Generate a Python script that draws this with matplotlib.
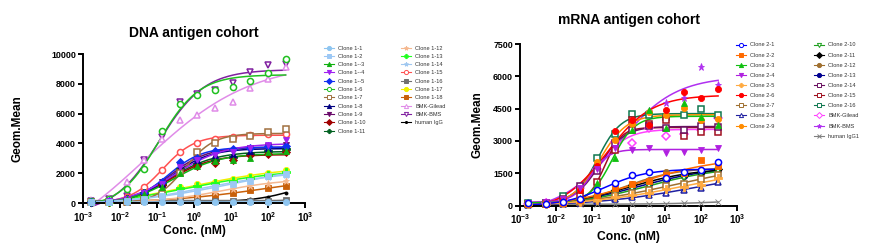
import numpy as np
import matplotlib
matplotlib.use('Agg')
import matplotlib.pyplot as plt
from matplotlib.lines import Line2D
from matplotlib.ticker import NullLocator

plt.rcParams['font.family'] = ['Liberation Sans', 'DejaVu Sans']
plt.rcParams['mathtext.fontset'] = 'custom'
plt.rcParams['mathtext.rm'] = 'Liberation Sans'
plt.rcParams['mathtext.bf'] = 'Liberation Sans:bold'

# concentrations (nM), 3-fold dilution
conc = [0.00169, 0.00508, 0.0152, 0.0457, 0.137, 0.412, 1.23, 3.70, 11.1, 33.3, 100, 300]

# ---- DNA antigen cohort (Geom.Mean) ----
dna_labels = ['Clone 1-1', 'Clone 1-2', 'Clone 1--3', 'Clone 1--4', 'Clone 1--5', 'Clone 1-6',
              'Clone 1-7', 'Clone 1-8', 'Clone 1-9', 'Clone 1-10', 'Clone 1-11', 'Clone 1-12',
              'Clone 1-13', 'Clone 1-14', 'Clone 1-15', 'Clone 1-16', 'Clone 1-17', 'Clone 1-18',
              'BMK-Gilead', 'BMK-BMS', 'human IgG']
c1_1 = [60, 70, 60, 80, 70, 60, 60, 70, 60, 70, 60, 80]
c1_2 = [80, 100, 150, 300, 450, 700, 800, 1050, 1300, 1500, 1800, 1950]
c1_3 = [80, 100, 250, 600, 1100, 2000, 2500, 2800, 2900, 3000, 3400, 3500]
c1_4 = [100, 150, 300, 700, 1300, 2400, 2900, 3200, 3400, 3700, 3900, 4200]
c1_5 = [80, 120, 300, 700, 1400, 2750, 3000, 3500, 3600, 3700, 3800, 3850]
c1_6 = [150, 300, 950, 2300, 4830, 6650, 7250, 7580, 7800, 8200, 8700, 9650]
c1_7 = [50, 80, 100, 200, 600, 2000, 3400, 4000, 4300, 4500, 4750, 4950]
c1_8 = [100, 120, 250, 650, 1300, 2400, 2900, 3200, 3300, 3500, 3700, 3900]
c1_9 = [100, 150, 300, 700, 1400, 2500, 3000, 3300, 3500, 3700, 3800, 3900]
c1_10 = [80, 100, 250, 600, 1200, 2200, 2500, 2700, 2900, 3200, 3300, 3400]
c1_11 = [80, 120, 250, 650, 1300, 2300, 2600, 2900, 3100, 3300, 3500, 3600]
c1_12 = [50, 60, 80, 120, 200, 350, 550, 750, 950, 1150, 1300, 1450]
c1_13 = [80, 100, 200, 400, 700, 1000, 1150, 1350, 1500, 1700, 1850, 2050]
c1_14 = [60, 80, 150, 300, 500, 800, 950, 1150, 1350, 1550, 1750, 1900]
c1_15 = [100, 150, 400, 1070, 2210, 3420, 4030, 4300, 4450, 4550, 4600, 4650]
c1_16 = [150, 200, 150, 150, 200, 150, 150, 150, 150, 150, 150, 200]
c1_17 = [100, 100, 200, 400, 800, 1100, 1250, 1400, 1600, 1800, 2000, 2200]
c1_18 = [50, 60, 80, 150, 250, 300, 400, 500, 650, 850, 1000, 1150]
dna_gilead = [200, 350, 1400, 2900, 4300, 5570, 5900, 6370, 6800, 7700, 8300, 9100]
dna_bms = [150, 250, 500, 2900, 4400, 6800, 7300, 7600, 8050, 8800, 9250, 9300]
dna_igg = [50, 50, 50, 50, 50, 60, 80, 100, 150, 250, 400, 700]
dna_values = [c1_1, c1_2, c1_3, c1_4, c1_5, c1_6, c1_7, c1_8, c1_9, c1_10, c1_11, c1_12,
              c1_13, c1_14, c1_15, c1_16, c1_17, c1_18, dna_gilead, dna_bms, dna_igg]

# ---- mRNA antigen cohort ----
rna_labels = ['Clone 2-1', 'Clone 2-2', 'Clone 2-3', 'Clone 2-4', 'Clone 2-5', 'Clone 2-6',
              'Clone 2-7', 'Clone 2-8', 'Clone 2-9', 'Clone 2-10', 'Clone 2-11', 'Clone 2-12',
              'Clone 2-13', 'Clone 2-14', 'Clone 2-15', 'Clone 2-16', 'BMK-Gilead', 'BMK-BMS',
              'human IgG1']
c2_1 = [100, 80, 150, 320, 700, 1050, 1400, 1550, 1300, 1550, 1650, 2000]
c2_2 = [80, 80, 120, 250, 500, 800, 1000, 1150, 1400, 1500, 2100, 1850]
c2_3 = [100, 120, 200, 350, 1050, 2200, 3500, 4450, 3600, 4750, 4100, 3750]
c2_4 = [120, 150, 300, 800, 1700, 2650, 2600, 2650, 2450, 2500, 2600, 2650]
c2_5 = [50, 60, 100, 150, 250, 400, 500, 600, 750, 850, 950, 1300]
c2_6 = [100, 150, 300, 700, 1830, 3450, 3950, 3750, 4450, 5250, 5000, 5400]
c2_7 = [60, 70, 100, 150, 300, 450, 600, 700, 900, 1000, 1250, 1400]
c2_8 = [40, 50, 60, 100, 200, 300, 400, 500, 600, 700, 800, 1100]
c2_9 = [100, 100, 300, 750, 2000, 3050, 3800, 4350, 4200, 4550, 3950, 4000]
c2_10 = [60, 70, 100, 200, 350, 550, 750, 900, 1100, 1300, 1450, 1600]
c2_11 = [70, 80, 120, 250, 450, 700, 950, 1100, 1250, 1400, 1550, 1700]
c2_12 = [70, 80, 120, 250, 450, 750, 1000, 1200, 1550, 1500, 1650, 1750]
c2_13 = [60, 70, 100, 200, 400, 650, 850, 1000, 1200, 1350, 1500, 1650]
c2_14 = [80, 100, 300, 900, 1600, 2900, 3500, 3700, 3600, 3500, 3700, 3650]
c2_15 = [60, 80, 150, 450, 1100, 2600, 3950, 3800, 3950, 3250, 3400, 3400]
c2_16 = [100, 120, 450, 700, 2200, 3300, 4270, 4200, 4100, 4200, 4500, 4200]
rna_gilead = [80, 100, 250, 800, 1700, 2950, 2900, 3600, 3250, 3300, 3500, 4050]
rna_bms = [100, 150, 400, 900, 1650, 2900, 3700, 4400, 4740, 5000, 6450, 5600]
rna_igg = [50, 50, 50, 60, 60, 70, 80, 90, 90, 100, 100, 180]
rna_values = [c2_1, c2_2, c2_3, c2_4, c2_5, c2_6, c2_7, c2_8, c2_9, c2_10, c2_11, c2_12,
              c2_13, c2_14, c2_15, c2_16, rna_gilead, rna_bms, rna_igg]

# styles: (marker, color, open)
dna_styles = [('o', '#8ec5f0', False), ('s', '#9cc8f5', False), ('^', '#10b010', False),
              ('v', '#a020f0', False), ('D', '#1030f0', False), ('o', '#20c020', True),
              ('s', '#a07040', True), ('^', '#000080', False), ('v', '#6a0a6a', False),
              ('D', '#a00000', False), ('P', '#006020', False), ('*', '#f5b890', False),
              ('P', '#20ff20', False), ('*', '#a0c8f0', False), ('o', '#ff5050', True),
              ('s', '#707070', False), ('o', '#f0f000', False), ('s', '#c8600a', False),
              ('^', '#e08ce8', True), ('v', '#8020a0', True), ('.', '#000000', False)]
rna_styles = [('o', '#0000ff', True), ('s', '#ff6a00', False), ('^', '#10c010', False),
              ('v', '#b020e0', False), ('P', '#ffaa40', False), ('o', '#ff0000', False),
              ('s', '#a07030', True), ('^', '#2020a0', True), ('o', '#ff8c00', False),
              ('v', '#20a020', True), ('D', '#000000', False), ('o', '#a07030', False),
              ('o', '#000090', False), ('s', '#6a1060', True), ('s', '#a01020', True),
              ('s', '#107850', True), ('D', '#ff40ff', True), ('*', '#b030f0', False),
              ('x', '#808080', False)]


def fit_4pl(x, y):
    # grid search on logEC50 / hill, least squares for bottom & span
    lx = np.log10(x)
    logc = np.linspace(-3.5, 3.0, 131)[:, None, None]
    hill = np.linspace(0.3, 3.0, 55)[None, :, None]
    g = 1.0 / (1.0 + 10 ** ((logc - lx) * hill))
    gm = g.mean(-1, keepdims=True)
    ym = y.mean()
    s = ((g - gm) * (y - ym)).sum(-1) / (((g - gm) ** 2).sum(-1) + 1e-12)
    b = ym - s * gm[..., 0]
    sse = ((b[..., None] + s[..., None] * g - y) ** 2).sum(-1)
    i, j = np.unravel_index(np.argmin(sse), sse.shape)
    return b[i, j], s[i, j], logc[i, 0, 0], hill[0, j, 0]


def draw(ax, values, styles):
    x = np.array(conc)
    xs = np.logspace(np.log10(x[0]), np.log10(x[-1]), 200)
    n = len(values)
    for k in range(n - 1, -1, -1):
        y = np.array(values[k], dtype=float)
        m, c, op = styles[k]
        b, s, lc, h = fit_4pl(x, y)
        ax.plot(xs, b + s / (1 + 10 ** ((lc - np.log10(xs)) * h)), color=c, lw=1.1,
                zorder=2 + (n - k) * 0.01, clip_on=False)
        ax.plot(x, y, ls='none', marker=m, ms=4.4 if m not in ('*', 'P') else 5.2,
                mfc='white' if op else c, mec=c, mew=1.1 if op else 0.6,
                zorder=3 + (n - k) * 0.01, clip_on=False)


def setup(ax, ymax, ystep, title, ylab_x, xlab_y, title_y):
    ax.set_xscale('log')
    ax.set_xlim(1e-3, 1e3)
    ax.set_ylim(0, ymax)
    ax.spines['top'].set_visible(False)
    ax.spines['right'].set_visible(False)
    for sp in ('left', 'bottom'):
        ax.spines[sp].set_linewidth(1.4)
    ax.set_xticks([10.0 ** e for e in range(-3, 4)])
    ax.set_xticklabels([r'$\mathbf{10^{%d}}$' % e for e in range(-3, 4)], fontsize=7)
    ax.xaxis.set_minor_locator(NullLocator())
    yt = np.arange(0, ymax + 1, ystep)
    ax.set_yticks(yt)
    ax.set_yticklabels(['%d' % v for v in yt], fontsize=6.4, fontweight='bold')
    ax.tick_params(width=1.4, length=3.5, pad=1.5)
    ax.set_ylabel('Geom.Mean', fontsize=8.5, fontweight='bold')
    ax.yaxis.set_label_coords(ylab_x, 0.5)
    ax.set_xlabel('Conc. (nM)', fontsize=8.7, fontweight='bold')
    ax.xaxis.set_label_coords(0.5, xlab_y)
    ax.text(0.5, title_y, title, transform=ax.transAxes, ha='center', va='center',
            fontsize=10, fontweight='bold')


def legend(fig, labels, styles, x, y, ls):
    hs = []
    for (m, c, op) in styles:
        hs.append(Line2D([0], [0], color=c, lw=0.8, marker=m, ms=3,
                         mfc='white' if op else c, mec=c, mew=0.7))
    lg = fig.legend(hs, labels, loc='upper left', bbox_to_anchor=(x, y), frameon=False,
                    fontsize=4.1, borderpad=0, borderaxespad=0, handlelength=1.8,
                    handletextpad=0.7, labelspacing=ls)
    for t in lg.get_texts():
        t.set_color('#333333')


fig = plt.figure(figsize=(8.8, 2.49), dpi=100)
ax1 = fig.add_axes([83 / 880, 46 / 249, 222 / 880, 149 / 249])
ax2 = fig.add_axes([520 / 880, 43.5 / 249, 217 / 880, 161.5 / 249])

draw(ax1, dna_values, dna_styles)
draw(ax2, rna_values, rna_styles)
setup(ax1, 10000, 2000, 'DNA antigen cohort', -0.27, -0.148, 1.141)
setup(ax2, 7500, 1500, 'mRNA antigen cohort', -0.17, -0.158, 1.149)

legend(fig, dna_labels[:11], dna_styles[:11], 324 / 880, 1 - 45.5 / 249, 0.58)
legend(fig, dna_labels[11:], dna_styles[11:], 401 / 880, 1 - 45.5 / 249, 0.58)
legend(fig, rna_labels[:9], rna_styles[:9], 736 / 880, 1 - 42.5 / 249, 0.9)
legend(fig, rna_labels[9:], rna_styles[9:], 814 / 880, 1 - 42.5 / 249, 0.9)

fig.savefig('out.png', dpi=100)
